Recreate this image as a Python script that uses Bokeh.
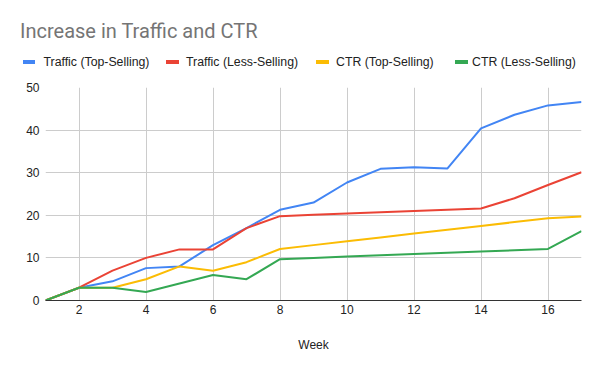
from bokeh.plotting import figure
from bokeh.layouts import column
from bokeh.models import Div, FixedTicker, Range1d
from bokeh.embed import file_html
from bokeh.resources import INLINE

weeks = list(range(1, 18))
traffic_top = [0, 3, 4.5, 7.6, 8, 13, 17, 21.3, 23, 27.7, 30.9, 31.3, 31.0, 40.4, 43.6, 45.8, 46.6]
traffic_less = [0, 3, 7, 10, 12, 12, 17, 19.8, 20.1, 20.4, 20.7, 21.0, 21.3, 21.6, 24.0, 27.1, 30.1]
ctr_top = [0, 3, 3, 5, 8, 7, 9, 12.1, 13.0, 13.9, 14.8, 15.7, 16.6, 17.5, 18.4, 19.3, 19.7]
ctr_less = [0, 3, 3, 2, 4, 6, 5, 9.7, 10.0, 10.3, 10.6, 10.9, 11.2, 11.5, 11.8, 12.1, 16.3]
series_names = ["Traffic (Top-Selling)", "Traffic (Less-Selling)", "CTR (Top-Selling)", "CTR (Less-Selling)"]
colors = ["#4285F4", "#EA4335", "#FBBC04", "#34A853"]
x_ticks = [2, 4, 6, 8, 10, 12, 14, 16]
y_ticks = [0, 10, 20, 30, 40, 50]
title_text = "Increase in Traffic and CTR"
x_label = "Week"

FONT = "Liberation Sans"
TOP_H = 80

# ---- header: title + legend (HTML) ----
swatch_x = [22.5, 166, 316, 455]
label_x = [43.5, 186, 336, 472]
parts = ['<div style="position:relative;width:600px;height:%dpx;margin:0;padding:0;">' % TOP_H,
         '<span style="position:absolute;left:20px;top:18.9px;font-family:Roboto;font-size:20px;'
         'line-height:24px;color:#757575;white-space:nowrap;">%s</span>' % title_text]
for name, c, sx, lx in zip(series_names, colors, swatch_x, label_x):
    parts.append('<span style="position:absolute;left:%spx;top:60px;width:12.5px;height:3.5px;'
                 'background:%s;"></span>' % (sx, c))
    parts.append('<span style="position:absolute;left:%spx;top:55.2px;font-family:\'%s\';font-size:12.3px;'
                 'line-height:14px;color:#222222;white-space:nowrap;">%s</span>' % (lx, FONT, name))
parts.append('</div>')
header = Div(text="".join(parts), width=600, height=TOP_H, margin=0)

# ---- main chart ----
p = figure(width=600, height=371 - TOP_H, output_backend="svg", toolbar_location=None,
           x_range=Range1d(1, 17), y_range=Range1d(0, 50),
           min_border_left=45, min_border_right=19, min_border_top=7, min_border_bottom=71)
p.outline_line_color = None

for ys, c in zip([traffic_top, traffic_less, ctr_top, ctr_less], colors):
    p.line(weeks, ys, line_color=c, line_width=2)

p.xaxis.ticker = FixedTicker(ticks=x_ticks)
p.yaxis.ticker = FixedTicker(ticks=y_ticks)
for ax in (p.xaxis[0], p.yaxis[0]):
    ax.major_tick_line_color = None
    ax.minor_tick_line_color = None
    ax.major_tick_out = 0
    ax.major_tick_in = 0
    ax.minor_tick_out = 0
    ax.major_label_text_font = FONT
    ax.major_label_text_font_size = "12px"
    ax.major_label_text_color = "#222222"
p.yaxis.axis_line_color = None
p.yaxis.major_label_standoff = 6
p.xaxis.axis_line_color = "#333333"
p.xaxis.axis_line_width = 1
p.xaxis.major_label_standoff = 4
p.xaxis.axis_label = x_label
p.xaxis.axis_label_text_font = FONT
p.xaxis.axis_label_text_font_size = "12px"
p.xaxis.axis_label_text_font_style = "normal"
p.xaxis.axis_label_text_color = "#222222"
p.xaxis.axis_label_standoff = 21

p.grid.grid_line_color = "#cccccc"
p.grid.grid_line_width = 1

layout = column(header, p, spacing=0)
open("out.html", "w").write(file_html(layout, INLINE))
